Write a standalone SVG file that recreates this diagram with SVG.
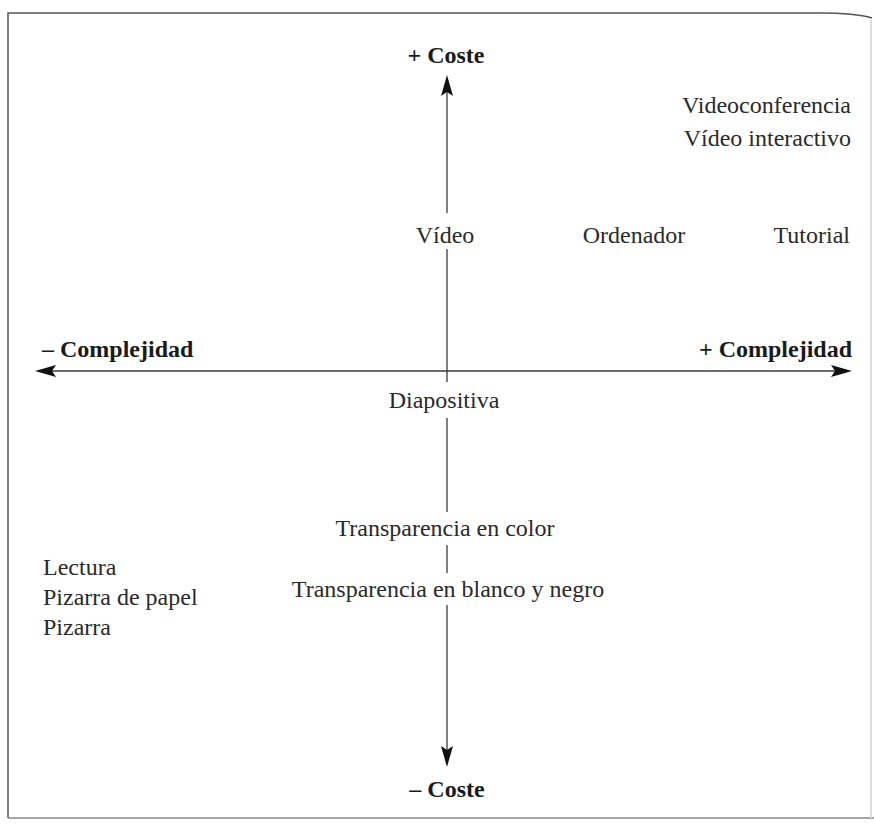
<svg xmlns="http://www.w3.org/2000/svg" width="874" height="830" viewBox="0 0 874 830">
<style>
.t{font-family:"Liberation Serif","Times New Roman",serif;font-size:24px;fill:#2a2a2a}
.b{font-family:"Liberation Serif","Times New Roman",serif;font-size:24px;font-weight:bold;fill:#1a1a1a}
.ax{stroke:#3a3a3a;stroke-width:1.3;fill:none}
.ah{fill:#111}
.frame{stroke:#555;stroke-width:1.5;fill:none}
</style>
<rect width="874" height="830" fill="#ffffff"/>
<path class="frame" d="M8,818 L8,13 L820,13 Q855,13 872,18"/>
<line class="frame" x1="8" y1="818" x2="874" y2="818" style="stroke:#888"/>
<line x1="871" y1="20" x2="871" y2="818" style="stroke:#ddd;stroke-width:2"/>
<g id="connectors">
<line class="ax" x1="447" y1="92" x2="447" y2="213"/>
<line class="ax" x1="447" y1="249" x2="447" y2="382"/>
<line class="ax" x1="447" y1="418" x2="447" y2="512"/>
<line class="ax" x1="447" y1="545" x2="447" y2="573"/>
<line class="ax" x1="447" y1="605" x2="447" y2="750"/>
<path class="ah" d="M447,75 L453,96 L447,92 L441,96 Z"/>
<path class="ah" d="M447,767 L453,746 L447,750 L441,746 Z"/>
<line class="ax" x1="52" y1="371" x2="835" y2="371"/>
<path class="ah" d="M35,371 L56,365 L52,371 L56,377 Z"/>
<path class="ah" d="M852,371 L831,365 L835,371 L831,377 Z"/>
</g>
<g id="plus-coste"><text class="b" x="446" y="63" text-anchor="middle">+ Coste</text></g>
<g id="minus-coste"><text class="b" x="447" y="797" text-anchor="middle">– Coste</text></g>
<g id="minus-complejidad"><text class="b" x="42" y="357">– Complejidad</text></g>
<g id="plus-complejidad"><text class="b" x="852" y="357" text-anchor="end">+ Complejidad</text></g>
<g id="videoconferencia"><text class="t" x="851" y="113" text-anchor="end">Videoconferencia</text><text class="t" x="851" y="146" text-anchor="end">Vídeo interactivo</text></g>
<g id="video"><text class="t" x="445" y="243" text-anchor="middle">Vídeo</text></g>
<g id="ordenador"><text class="t" x="634" y="243" text-anchor="middle">Ordenador</text></g>
<g id="tutorial"><text class="t" x="850" y="243" text-anchor="end">Tutorial</text></g>
<g id="diapositiva"><text class="t" x="444" y="408" text-anchor="middle">Diapositiva</text></g>
<g id="transp-color"><text class="t" x="445" y="536" text-anchor="middle">Transparencia en color</text></g>
<g id="transp-bn"><text class="t" x="448" y="597" text-anchor="middle">Transparencia en blanco y negro</text></g>
<g id="lectura"><text class="t" x="43" y="575">Lectura</text><text class="t" x="43" y="605">Pizarra de papel</text><text class="t" x="43" y="635">Pizarra</text></g>
</svg>
